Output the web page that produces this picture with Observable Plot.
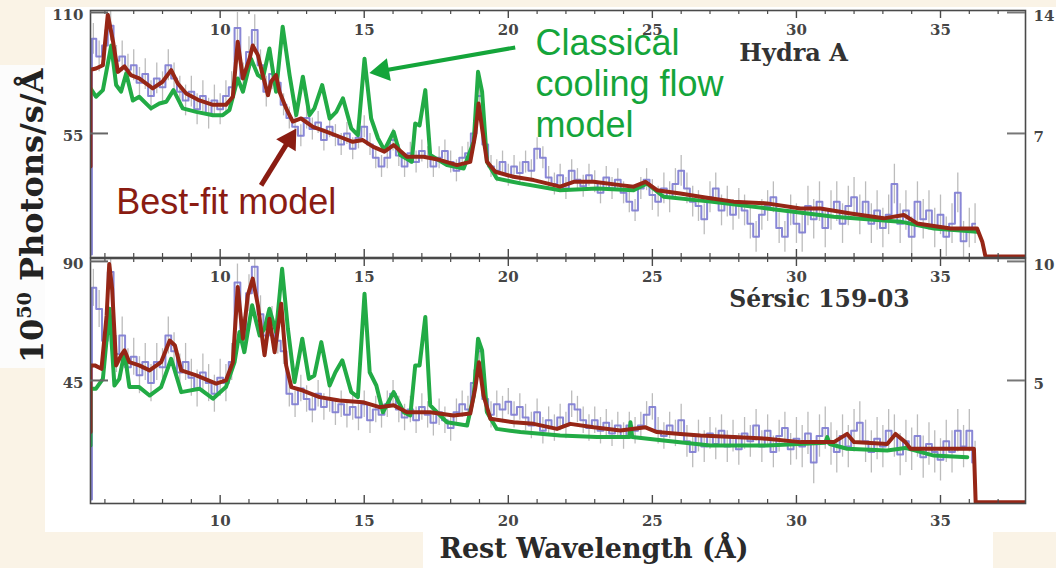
<!DOCTYPE html>
<html><head><meta charset="utf-8">
<script src="https://cdn.jsdelivr.net/npm/d3@7"></script>
<script src="https://cdn.jsdelivr.net/npm/@observablehq/plot@0.6"></script>
<style>
html,body{margin:0;padding:0;background:#faf3e6;}
#wrap{position:relative;width:1056px;height:568px;background:#faf3e6;overflow:hidden;}
.white{position:absolute;background:#fff;}
.panel{position:absolute;left:0;}
#ylab{position:absolute;left:-118px;top:198px;width:300px;height:36px;line-height:36px;text-align:center;
  transform:rotate(-90deg);font-family:"DejaVu Serif",serif;font-weight:bold;font-size:32px;color:#222;white-space:nowrap;}
#ylab sup{font-size:0.6em;line-height:0;}
#xlab{position:absolute;left:294px;top:532px;width:600px;height:34px;line-height:34px;text-align:center;
  font-family:"DejaVu Serif",serif;font-weight:bold;font-size:27px;color:#2a2a2a;white-space:nowrap;}
</style></head><body><div id="wrap">
<div class="white" style="left:45px;top:7px;width:1011px;height:525px"></div>
<div class="white" style="left:0;top:65px;width:45px;height:303px;background:#fcfcfc"></div>
<div class="white" style="left:423px;top:532px;width:570px;height:36px"></div>
<div id="ylab">10<sup>50</sup> Photons/s/Å</div>
<div id="xlab">Rest Wavelength (Å)</div>
</div>
<script>
// ---------- DATA ----------
const majorTicks = [10, 15, 20, 25, 30, 35];
const minorTicks = [6,7,8,9,11,12,13,14,16,17,18,19,21,22,23,24,26,27,28,29,31,32,33,34,36,37];

// Hydra A — observed spectrum, bins of 0.2 Å starting at 5.6 Å
const hydraBlue = [
  98,90,95,104,88, 90,84,86,78,82, 72,80,76,86,80, 74,70,74,66,72, 64,70,66,72,76,
  103,80,92,102,86, 74,82,78,68,62, 58,54,62,57,60, 52,58,54,50,55, 48,53,58,50,44,
  40,44,52,45,40, 46,42,47,44,40, 44,47,42,38,44, 46,55,72,50,40, 38,42,36,40,37,
  42,38,48,44,35, 32,36,30,38,34, 31,36,33,28,35, 30,34,28,24,20, 30,34,27,24,30,
  26,32,38,30,24, 22,16,26,30,20, 24,18,23,20,14, 8,18,22,26,12, 8,20,14,10,22,
  16,24,12,20,24, 14,22,26,18,24, 14,20,12,18,32, 14,20,8,24,16, 20,12,18,8,14,
  28,6,12,14];
const hydraErr = [[5.5,7],[12,5],[19.5,5],[25,7],[30,9]];
const hydraFit = [[5.5,40],[5.5,84],[5.69,84.5],[5.93,86],[6.1,109],[6.28,97],[6.45,83],[6.68,85.5],[6.9,81.5],[7.19,80],[7.66,75.5],[8.0,78.5],[8.3,83.8],[8.53,77.7],[8.82,73.2],[9.28,70],[9.75,68],[10.2,68],[10.44,71.7],[10.61,96.7],[10.79,80],[11.02,89],[11.13,95],[11.31,90.6],[11.48,81.5],[11.66,72.4],[11.77,78.6],[11.94,81.5],[12.06,74],[12.29,66.4],[12.52,60.4],[12.81,61.8],[13.22,58],[13.68,55.8],[14.14,53.5],[14.6,51.2],[14.95,52],[15.3,49],[15.7,46.7],[16.02,49.7],[16.48,44.4],[17.06,44.4],[17.64,42.9],[18.22,40.6],[18.68,42.1],[18.85,54.2],[18.97,68.6],[19.09,57.3],[19.26,42.1],[19.55,37.6],[20.18,35.3],[20.88,33.8],[21.8,30.8],[22.27,33],[22.96,33],[23.89,31.5],[24.35,30.8],[24.76,33],[25.16,29.2],[25.97,27.7],[26.67,26.2],[27.01,25.5],[27.82,24],[28.98,23.2],[30.14,20.9],[30.83,20.9],[31.88,18.6],[33.03,16.4],[33.73,17.9],[34.19,14.1],[35.35,11.8],[36.27,11.8],[36.45,5.8],[36.56,-0.9],[37.95,-0.9]];
const hydraCool = [[5.5,75.5],[5.69,71.7],[5.93,74.7],[6.22,95],[6.39,77],[6.56,74],[6.74,82.3],[6.97,70],[7.19,71.7],[7.6,66.4],[7.89,68.6],[8.13,69.4],[8.38,74.7],[8.7,66.4],[9.17,64.8],[9.75,63.3],[10.09,63.3],[10.32,65.6],[10.61,80],[10.79,74],[11.07,89],[11.31,81.5],[11.48,80],[11.71,93.6],[11.94,74],[12.17,103.5],[12.41,81.5],[12.64,63.3],[12.87,80.8],[13.1,63.3],[13.27,66.4],[13.54,77],[13.8,61.8],[14.03,64.8],[14.26,71],[14.55,57.3],[14.78,54.2],[15.01,89],[15.24,61.8],[15.48,52.7],[15.7,47.4],[16.02,55.8],[16.25,45.2],[16.65,42.1],[16.77,59.5],[16.92,58.6],[17.12,74.7],[17.29,45.2],[17.87,40.6],[18.45,39.1],[18.8,51.2],[18.95,83],[19.09,74],[19.26,42.1],[19.6,34.5],[20.42,32.3],[21.8,29.2],[23.08,30],[24.35,29.2],[24.81,32.3],[25.39,26.2],[27.01,24],[28.98,20.9],[31.3,17.1],[33.61,14.9],[34.77,11.8],[36.27,10.3]];
const hydraLeftTicks = [55, 110];
const hydraRightLabels = ["7", "14"];
const hydraName = [{label: "Hydra A", x: 29.9, y: 95.5}];

// Sérsic 159-03
const sersicBlue = [
  80,72,60,86,55, 62,50,54,47,52, 44,52,50,62,56, 48,52,46,42,48, 44,40,46,44,52,
  82,62,78,88,70, 62,66,60,56,40, 36,42,38,34,40, 35,38,33,36,32, 35,31,36,30,34,
  32,36,40,34,31, 34,30,35,32,29, 33,30,27,33,36, 34,44,56,38,32, 36,34,37,32,35,
  31,28,33,26,30, 27,31,28,36,34, 30,27,30,26,29, 25,28,24,28,26, 28,32,35,26,24,
  28,25,30,22,18, 24,20,25,21,26, 20,24,19,25,22, 28,20,26,18,24, 27,19,23,20,25,
  14,24,27,21,18, 24,20,26,29,22, 18,23,20,26,24, 17,22,19,24,16, 21,18,15,22,18,
  26,20,26,14];
const sersicErr = [[5.5,7],[12,5],[20,5],[26,6],[30,8]];
const sersicFit = [[5.5,25.5],[5.5,50.7],[5.65,50.7],[5.88,49.4],[6.06,69.6],[6.15,89],[6.25,79.7],[6.39,50.7],[6.56,54.5],[6.68,56.4],[6.85,51.9],[7.19,50.7],[7.55,48.8],[7.95,51.9],[8.25,60.1],[8.43,58.2],[8.65,48.8],[9.17,46.9],[9.86,43.8],[10.2,45],[10.44,51.9],[10.61,80.3],[10.79,60.8],[10.96,77.2],[11.13,83.5],[11.31,73.4],[11.54,54.5],[11.71,68.3],[11.89,55.7],[12.12,74],[12.29,50.7],[12.47,42.5],[12.87,41.2],[13.45,38.7],[14.14,37.4],[14.95,36.8],[15.53,34.9],[16.02,35.6],[16.48,33],[17.29,33],[18.1,31.8],[18.68,32.5],[18.85,41.9],[18.98,51.9],[19.14,39.3],[19.38,30.5],[20.18,29.2],[20.88,28.6],[21.69,26.7],[22.15,28.6],[22.96,27.3],[23.89,26.1],[24.76,27.3],[25.16,25.5],[25.97,24.8],[26.67,24.2],[27.82,23.6],[28.98,23],[30.14,21.7],[31.3,21.7],[31.76,24.8],[32.0,21.7],[33.15,21],[33.44,24.8],[33.78,21.7],[33.96,19.2],[34.77,19.2],[36.16,19.2],[36.22,-1],[37.95,-1]];
const sersicCool = [[5.5,20.4],[5.5,41.9],[5.69,41.9],[5.93,45.6],[6.16,72.1],[6.33,43.1],[6.5,45.6],[6.68,55.7],[6.85,42.5],[7.19,42.5],[7.55,39.3],[7.95,42.5],[8.3,53.2],[8.65,40.6],[9.28,41.9],[9.75,38.1],[10.2,42.5],[10.5,51.9],[10.67,63.3],[10.84,55.7],[11.11,73.4],[11.37,62],[11.54,64.6],[11.71,72.1],[11.94,63.3],[12.15,87.2],[12.35,64.6],[12.58,44.4],[12.85,60.8],[13.08,45.6],[13.27,46.9],[13.51,59.5],[13.8,43.1],[14.0,48.1],[14.24,52.6],[14.55,40.6],[14.78,38.7],[15.01,77.8],[15.19,48.1],[15.42,43.1],[15.65,33],[16.02,40.6],[16.37,33],[16.6,31.8],[16.77,50.7],[16.92,50.7],[17.12,69],[17.29,35.6],[17.87,29.2],[18.57,28],[18.8,39.3],[18.95,60.8],[19.09,56.4],[19.26,33],[19.6,26.7],[20.42,25.5],[21.8,24.2],[23.08,23.6],[24.2,23.6],[24.24,29.2],[24.3,23.6],[25.39,22.3],[27.01,20.4],[28.98,20.4],[31.0,21.5],[31.07,23.6],[31.15,21],[31.76,19.2],[33.15,18.5],[33.78,19.5],[34.77,16.6],[35.93,16]];
const sersicLeftTicks = [45, 90];
const sersicRightLabels = ["5", "10"];
const sersicName = [{label: "Sérsic 159-03", x: 30.8, y: 79}];

// Annotations (top panel)
const coolLabel = [{x: 20.94, y: 104.1, text: "Classical\ncooling flow\nmodel"}];
const coolArrow = {x1: 20.24, y1: 94.1, x2: 15.15, y2: 82.4};
const fitLabel = [{x: 6.39, y: 30, text: "Best-fit model"}];
const fitArrow = {x1: 11.42, y1: 31.4, x2: 12.66, y2: 57.6};

// ---------- STYLE ----------
const RED = "#962616", GREEN = "#22ab45", BLUE = "#7c7ad2", AX = "#4a4a4a";
const GREEN_TXT = "#14a53a", RED_TXT = "#8a1c12";
const SERIF = "DejaVu Serif, serif", SANS = "Liberation Sans, Arial, sans-serif";
const X_DOMAIN = [5.5, 37.95];

function errAt(bands, x) {
  let e = bands[0][1];
  for (const [start, v] of bands) if (x >= start) e = v;
  return e;
}

// straight shaft + solid triangular head, positioned through the panel's scales
function solidArrow(a, color, width, kx, ky, headLen, headR) {
  const sx = (a.x2 - a.x1) * kx, sy = (a.y2 - a.y1) * ky;
  const len = Math.hypot(sx, sy), ux = sx / len, uy = sy / len;
  const shaftEnd = {x: a.x2 - ux * (headLen * 0.6) / kx, y: a.y2 - uy * (headLen * 0.6) / ky};
  const c = (2 * headLen) / 3;
  const head = {x: a.x2 - ux * c / kx, y: a.y2 - uy * c / ky, rot: Math.atan2(ux, uy) * 180 / Math.PI};
  return [
    Plot.link([{x1: a.x1, y1: a.y1, x2: shaftEnd.x, y2: shaftEnd.y}], {x1: "x1", y1: "y1", x2: "x2", y2: "y2", stroke: color, strokeWidth: width}),
    Plot.dot([head], {x: "x", y: "y", rotate: "rot", symbol: "triangle", r: headR, fill: color, stroke: "none"})
  ];
}

function panel(cfg) {
  const W = 1056, mL = 90, mR = 31;
  const fw = W - mL - mR;
  const fh = cfg.height - cfg.marginTop - cfg.marginBottom;
  const kx = fw / (X_DOMAIN[1] - X_DOMAIN[0]);
  const ky = fh / (cfg.yDomain[1] - cfg.yDomain[0]);
  const rows = [{x: 5.5, y: 0}].concat(cfg.blue.map((v, i) => ({x: +(5.6 + 0.2 * i).toFixed(2), y: v})));
  rows.forEach(r => { r.e = errAt(cfg.err, r.x); });
  const fit = cfg.fit.map(([x, y]) => ({x, y}));
  const cool = cfg.cool.map(([x, y]) => ({x, y}));
  const tickTxt = {fontFamily: SERIF, fontWeight: "bold", fontSize: 15, fill: "#454545", lineAnchor: "middle"};
  const marks = [
    Plot.ruleX(rows.slice(1), {x: "x", y1: d => d.y - d.e, y2: d => d.y + d.e, stroke: "#bcbcbc", strokeWidth: 1.3, clip: true}),
    Plot.line(rows, {x: "x", y: "y", curve: "step", stroke: BLUE, strokeWidth: 2, strokeOpacity: 0.9, clip: true}),
    Plot.line(cool, {x: "x", y: "y", stroke: GREEN, strokeWidth: 4, strokeLinejoin: "round", clip: true}),
    Plot.line(fit, {x: "x", y: "y", stroke: RED, strokeWidth: 4, strokeLinejoin: "round", clip: true}),
    Plot.frame({stroke: AX, strokeWidth: 1.6}),
    Plot.ruleX(majorTicks, {stroke: AX, strokeWidth: 1.4, insetBottom: fh - 8}),
    Plot.ruleX(minorTicks, {stroke: AX, strokeWidth: 1.2, insetBottom: fh - 4}),
    Plot.ruleX(majorTicks, {stroke: AX, strokeWidth: 1.4, insetTop: fh - 8}),
    Plot.ruleX(minorTicks, {stroke: AX, strokeWidth: 1.2, insetTop: fh - 4}),
    Plot.ruleY(cfg.leftTicks, {stroke: "#666", strokeWidth: 2, insetRight: fw - 18}),
    Plot.ruleY(cfg.leftTicks, {stroke: "#777", strokeWidth: 2, insetLeft: fw - 18}),
    Plot.text(majorTicks, {x: d => d, text: d => String(d), frameAnchor: "top", dy: cfg.topLabelDy, ...tickTxt}),
    Plot.text(cfg.leftTicks, {y: d => d, text: d => String(d), frameAnchor: "left", textAnchor: "end", dx: -7, dy: 3, ...tickTxt}),
    Plot.text(cfg.leftTicks, {y: d => d, text: (d, i) => cfg.rightLabels[i], frameAnchor: "right", textAnchor: "start", dx: 8, dy: 4, ...tickTxt}),
    Plot.text(cfg.name, {x: "x", y: "y", text: "label", lineAnchor: "top", fontFamily: SERIF, fontWeight: "bold", fontSize: cfg.nameSize, fill: "#333"})
  ];
  if (cfg.bottomLabels) {
    marks.push(Plot.text(majorTicks, {x: d => d, text: d => String(d), frameAnchor: "bottom", dy: 18, ...tickTxt}));
  }
  if (cfg.annotate) {
    marks.push(
      ...solidArrow(coolArrow, GREEN_TXT, 4, kx, ky, 21, 8.5),
      ...solidArrow(fitArrow, RED_TXT, 5, kx, ky, 21, 8.5),
      Plot.text(coolLabel, {x: "x", y: "y", text: "text", textAnchor: "start", lineAnchor: "top", lineHeight: 1.14, fontFamily: SANS, fontSize: 36, fill: GREEN_TXT}),
      Plot.text(fitLabel, {x: "x", y: "y", text: "text", textAnchor: "start", lineAnchor: "top", fontFamily: SANS, fontSize: 36, fill: RED_TXT})
    );
  }
  const svg = Plot.plot({
    width: W, height: cfg.height,
    marginLeft: mL, marginRight: mR, marginTop: cfg.marginTop, marginBottom: cfg.marginBottom,
    x: {domain: X_DOMAIN, axis: null},
    y: {domain: cfg.yDomain, axis: null},
    r: {type: "identity"},
    style: {background: "transparent", overflow: "visible"},
    marks
  });
  svg.classList.add("panel");
  svg.style.top = cfg.top + "px";
  return svg;
}

const wrap = document.getElementById("wrap");
wrap.appendChild(panel({
  top: 0, height: 262, marginTop: 10, marginBottom: 5, yDomain: [-1.4, 110.9],
  blue: hydraBlue, err: hydraErr, fit: hydraFit, cool: hydraCool,
  leftTicks: hydraLeftTicks, rightLabels: hydraRightLabels, name: hydraName, nameSize: 24,
  topLabelDy: 20, bottomLabels: false, annotate: true
}));
wrap.appendChild(panel({
  top: 250, height: 290, marginTop: 8, marginBottom: 37, yDomain: [-1.5, 91.1],
  blue: sersicBlue, err: sersicErr, fit: sersicFit, cool: sersicCool,
  leftTicks: sersicLeftTicks, rightLabels: sersicRightLabels, name: sersicName, nameSize: 23.5,
  topLabelDy: 19, bottomLabels: true, annotate: false
}));
</script>
</body></html>
